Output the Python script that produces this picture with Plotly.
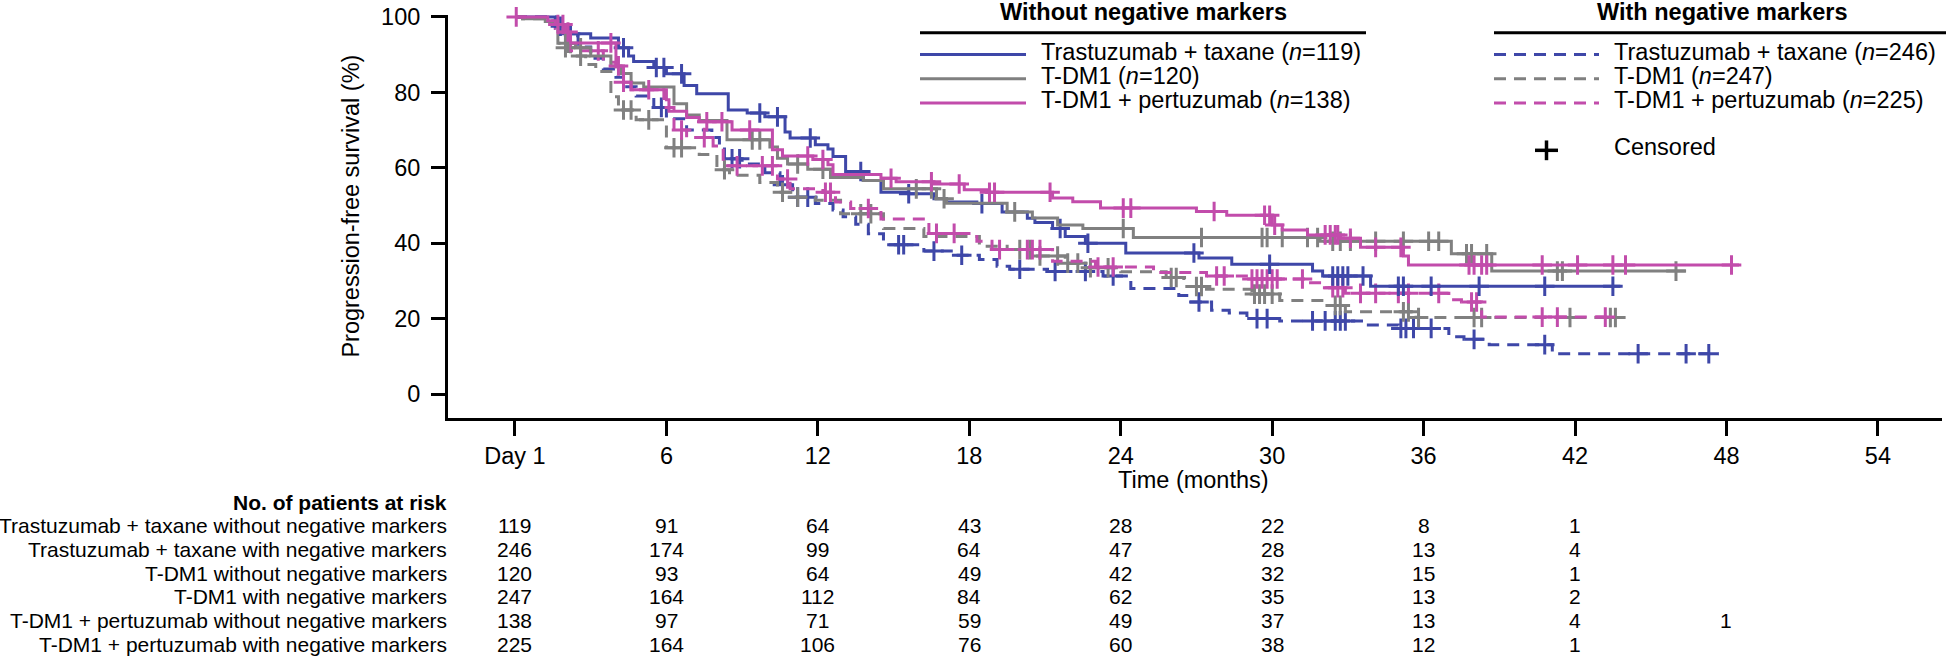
import numpy as np
import plotly.graph_objects as go

# ---------------- data ----------------
tick_vals = [0, 6, 12, 18, 24, 30, 36, 42, 48, 54]
tick_text = ["Day 1", "6", "12", "18", "24", "30", "36", "42", "48", "54"]
y_ticks = [0, 20, 40, 60, 80, 100]

# Trastuzumab + taxane, without negative markers (n=119)
tt_wo_t = [1.6, 2.0, 3.0, 4.1, 4.5, 4.7, 5.5, 6.0, 6.7, 7.2, 8.45, 9.2, 9.9, 10.7, 10.9, 11.9, 12.4, 12.6,
           13.1, 13.8, 14.5, 15.6, 16.6, 17.1, 18.3, 19.3, 20.3, 20.6, 21.3, 21.8, 22.6, 24.2, 27.1, 28.4,
           31.6, 32.0, 33.9]
tt_wo_s = [97.5, 95.5, 94.4, 91.8, 89.6, 88.2, 86.6, 84.9, 81.8, 79.6, 75.3, 74.5, 73.5, 69.5, 67.9, 66.1, 65.0, 63.0,
           59.0, 56.6, 53.5, 53.1, 51.8, 50.9, 50.5, 48.3, 46.6, 45.5, 43.9, 41.8, 40.0, 37.4, 36.1, 34.4,
           32.6, 31.3, 28.6]
tt_wo_end = 43.8
tt_wo_c = [1.8, 2.2, 4.3, 5.6, 5.9, 6.6, 9.7, 10.4, 11.7, 13.7, 15.6, 18.5, 21.6, 22.7, 26.9, 29.9, 32.4, 32.6,
           32.8, 33.0, 33.6, 35.0, 35.2, 36.3, 38.2, 40.8, 43.5]

# Trastuzumab + taxane, with negative markers (n=246)
tt_w_t = [1.6, 2.0, 2.5, 3.0, 3.5, 4.0, 4.3, 4.8, 5.5, 6.0, 6.8, 7.8, 8.1, 8.3, 9.0, 9.9, 10.5, 11.0, 11.9,
          12.6, 13.0, 13.5, 14.0, 14.6, 16.2, 17.4, 18.4, 19.1, 19.6, 21.1, 23.3, 24.4, 26.3, 26.7, 27.6,
          28.3, 29.0, 30.3, 33.7, 35.0, 37.0, 37.6, 38.6, 41.1]
tt_w_s = [97.0, 95.0, 92.0, 89.0, 86.2, 84.0, 81.5, 79.0, 76.0, 73.0, 70.0, 68.0, 66.0, 62.4, 61.0, 58.7, 55.5, 52.2, 50.5,
          48.8, 47.0, 45.0, 42.5, 39.6, 37.9, 36.8, 35.7, 33.9, 33.1, 32.5, 31.3, 28.0, 26.1, 24.4, 22.2,
          21.5, 20.0, 19.4, 18.3, 17.4, 15.2, 14.5, 13.1, 10.7]
tt_w_end = 47.7
tt_w_c = [5.8, 8.6, 8.9, 10.6, 11.2, 11.6, 15.2, 15.4, 16.6, 17.7, 20.0, 21.4, 22.6, 23.7, 27.1, 29.4, 29.8,
          31.6, 32.1, 32.5, 32.7, 32.9, 35.1, 35.3, 35.6, 36.3, 38.0, 40.8, 44.5, 46.4, 47.3]

# T-DM1, without negative markers (n=120)
t_wo_t = [0.3, 1.2, 1.7, 2.0, 2.4, 3.0, 3.8, 4.2, 4.6, 5.1, 6.3, 6.8, 7.3, 8.4, 10.1, 10.4, 10.8, 11.6, 12.5,
          13.8, 14.6, 16.7, 17.1, 19.5, 20.5, 21.5, 22.5, 24.5, 31.9, 37.1, 38.7]
t_wo_s = [99.5, 98.8, 96.0, 93.0, 91.8, 89.6, 87.0, 85.0, 82.5, 81.4, 77.0, 74.0, 72.5, 67.4, 65.5, 62.5, 61.0, 59.6, 57.4,
          56.6, 54.4, 51.8, 50.6, 48.3, 46.7, 44.8, 43.9, 41.5, 40.5, 37.2, 32.6]
t_wo_end = 46.4
t_wo_c = [2.1, 2.6, 9.4, 9.7, 11.2, 12.2, 15.9, 16.5, 17.0, 19.8, 24.1, 27.2, 29.6, 29.8, 30.4, 31.4, 31.8,
          32.4, 32.7, 33.1, 34.1, 35.2, 36.2, 36.6, 37.7, 37.9, 38.5, 41.3, 41.5, 46.0]

# T-DM1, with negative markers (n=247)
t_w_t = [0.3, 1.2, 1.7, 1.9, 2.2, 2.8, 3.2, 3.8, 4.1, 4.8, 6.0, 7.3, 8.0, 8.5, 9.7, 10.4, 11.0, 11.9, 12.9,
         14.6, 16.2, 18.4, 19.5, 20.7, 21.8, 22.6, 24.0, 25.8, 26.5, 27.4, 29.2, 30.3, 32.1, 32.9, 35.7]
t_w_s = [99.5, 98.5, 93.0, 91.8, 89.6, 87.4, 85.5, 78.8, 75.3, 72.7, 65.3, 63.5, 59.5, 58.0, 56.1, 53.5, 52.2, 51.4, 47.8,
         43.9, 41.8, 39.2, 38.3, 36.6, 34.7, 33.5, 32.4, 30.9, 28.5, 27.8, 26.5, 24.8, 23.5, 21.8, 20.3]
t_w_end = 44.0
t_w_c = [2.0, 2.6, 4.3, 4.6, 5.3, 6.3, 6.6, 8.3, 10.6, 11.2, 13.7, 14.1, 20.0, 20.4, 20.8, 21.5, 21.9, 22.3,
         22.8, 23.5, 26.0, 26.2, 27.0, 27.2, 29.3, 29.5, 29.7, 30.0, 32.5, 32.7, 35.2, 35.4, 35.8, 38.0, 38.3,
         41.8, 43.4, 43.6]

# T-DM1 + pertuzumab, without negative markers (n=138)
tp_wo_t = [1.3, 1.6, 2.0, 2.2, 4.0, 4.3, 4.6, 6.0, 6.1, 6.8, 7.3, 8.6, 10.2, 10.6, 11.8, 12.4, 12.6, 14.5,
           15.1, 16.6, 17.8, 18.7, 21.3, 22.1, 23.2, 27.0, 28.2, 30.0, 30.4, 31.4, 32.7, 33.5, 35.2, 35.4]
tp_wo_s = [99.0, 98.0, 96.0, 93.1, 87.0, 82.7, 80.7, 78.0, 75.0, 73.3, 72.2, 70.0, 64.8, 63.1, 62.2, 60.8, 58.2, 57.2,
           56.3, 55.7, 54.2, 53.5, 52.0, 51.0, 49.3, 48.4, 47.4, 44.8, 43.5, 42.2, 41.3, 38.9, 36.6, 34.2]
tp_wo_end = 48.5
tp_wo_c = [0.05, 1.7, 1.9, 2.1, 3.8, 4.1, 5.3, 7.6, 8.2, 9.3, 11.6, 12.2, 14.9, 16.5, 17.6, 18.8, 19.0, 21.2,
           24.1, 24.4, 27.7, 29.7, 29.9, 30.1, 32.1, 32.3, 32.5, 32.6, 33.1, 34.1, 35.1, 37.8, 38.0, 38.3,
           38.5, 40.7, 42.1, 43.5, 44.0, 48.2]

# T-DM1 + pertuzumab, with negative markers (n=225)
tp_w_t = [1.3, 1.6, 2.0, 2.2, 3.5, 4.0, 4.3, 4.6, 5.9, 6.3, 6.8, 7.85, 8.25, 10.4, 10.9, 12.2, 12.7, 13.3,
          14.5, 16.4, 18.3, 18.9, 21.3, 23.0, 25.3, 27.4, 29.1, 31.4, 32.1, 32.9, 37.0, 37.5, 38.3]
tp_w_s = [99.0, 97.0, 95.0, 91.0, 88.0, 86.7, 82.7, 80.7, 76.0, 70.0, 68.0, 65.8, 60.5, 57.0, 54.4, 53.5, 50.9, 49.2,
          46.4, 42.6, 40.5, 38.3, 35.2, 33.7, 32.2, 31.3, 30.5, 29.5, 28.2, 26.7, 25.0, 24.4, 20.4]
tp_w_end = 43.4
tp_w_c = [3.3, 4.3, 6.6, 7.5, 8.8, 9.8, 10.2, 10.8, 12.3, 12.5, 14.0, 16.7, 17.4, 19.2, 20.3, 20.5, 20.8,
          23.1, 23.7, 27.8, 28.1, 29.2, 29.4, 29.6, 29.8, 30.0, 30.2, 31.2, 32.4, 32.6, 32.8, 33.5, 34.1,
          35.0, 35.4, 36.6, 37.9, 38.1, 40.7, 41.3, 43.2]

# Number at risk
risk_times = [0, 6, 12, 18, 24, 30, 36, 42, 48]
risk_labels = ["Trastuzumab + taxane without negative markers",
               "Trastuzumab + taxane with negative markers",
               "T-DM1 without negative markers",
               "T-DM1 with negative markers",
               "T-DM1 + pertuzumab without negative markers",
               "T-DM1 + pertuzumab with negative markers"]
risk_tt_wo = [119, 91, 64, 43, 28, 22, 8, 1]
risk_tt_w = [246, 174, 99, 64, 47, 28, 13, 4]
risk_t_wo = [120, 93, 64, 49, 42, 32, 15, 1]
risk_t_w = [247, 164, 112, 84, 62, 35, 13, 2]
risk_tp_wo = [138, 97, 71, 59, 49, 37, 13, 4, 1]
risk_tp_w = [225, 164, 106, 76, 60, 38, 12, 1]

legend_wo = ["Trastuzumab + taxane (<i>n</i>=119)", "T-DM1 (<i>n</i>=120)", "T-DM1 + pertuzumab (<i>n</i>=138)"]
legend_w = ["Trastuzumab + taxane (<i>n</i>=246)", "T-DM1 (<i>n</i>=247)", "T-DM1 + pertuzumab (<i>n</i>=225)"]

# ---------------- styling / geometry ----------------
W, H = 1946, 660
L, R, T, B = 448, 4, 10, 242
PW, PH = W - L - R, H - T - B
BOT = H - B


def px(x):
    return (x - L) / PW


def py(y):
    return (BOT - y) / PH


BLUE = "#3E47A8"
GRAY = "#808080"
MAGENTA = "#C24CAB"
FONT = "Liberation Sans, Arial, Helvetica, sans-serif"
DASH = "12px,8px"
FS = 23.5
FS_TAB = 21
LAB_RIGHT = 449

X_RANGE = [-2.654, 56.54]
Y_RANGE = [-6.35, 100.5]

fig = go.Figure()


def add_curve(ts, ss, end, cens, color, dash):
    xs = [0.0] + list(ts) + [end]
    ys = [100.0] + list(ss) + [ss[-1]]
    fig.add_trace(go.Scatter(x=xs, y=ys, mode="lines", line=dict(color=color, width=3, dash=dash, shape="hv"),
                             cliponaxis=False, hoverinfo="skip"))
    tarr = np.array(xs[:-1])
    sarr = np.array(ys[:-1])
    idx = np.searchsorted(tarr, np.array(cens), side="right") - 1
    fig.add_trace(go.Scatter(x=cens, y=sarr[idx], mode="markers",
                             marker=dict(symbol="cross-thin", size=14, line=dict(color=color, width=3)),
                             cliponaxis=False, hoverinfo="skip"))


add_curve(tt_w_t, tt_w_s, tt_w_end, tt_w_c, BLUE, DASH)
add_curve(t_w_t, t_w_s, t_w_end, t_w_c, GRAY, DASH)
add_curve(tp_w_t, tp_w_s, tp_w_end, tp_w_c, MAGENTA, DASH)
add_curve(tt_wo_t, tt_wo_s, tt_wo_end, tt_wo_c, BLUE, "solid")
add_curve(t_wo_t, t_wo_s, t_wo_end, t_wo_c, GRAY, "solid")
add_curve(tp_wo_t, tp_wo_s, tp_wo_end, tp_wo_c, MAGENTA, "solid")

annotations = []
shapes = []

# axis titles
annotations.append(dict(text="Progression-free survival (%)", x=px(351), y=py(204), xref="paper", yref="paper",
                        textangle=-90, showarrow=False, font=dict(size=FS), xanchor="center", yanchor="middle"))
annotations.append(dict(text="Time (months)", x=px(1193), y=py(481), xref="paper", yref="paper",
                        showarrow=False, font=dict(size=FS), xanchor="center", yanchor="middle"))

# legend headers
annotations.append(dict(text="<b>Without negative markers</b>", x=px(1143), y=py(7), xref="paper", yref="paper",
                        showarrow=False, font=dict(size=FS), xanchor="center", yanchor="middle"))
annotations.append(dict(text="<b>With negative markers</b>", x=px(1722), y=py(7), xref="paper", yref="paper",
                        showarrow=False, font=dict(size=FS), xanchor="center", yanchor="middle"))
shapes.append(dict(type="line", xref="paper", yref="paper", x0=px(920), x1=px(1366), y0=py(28), y1=py(28),
                   line=dict(color="black", width=3)))
shapes.append(dict(type="line", xref="paper", yref="paper", x0=px(1494), x1=px(1946), y0=py(28), y1=py(28),
                   line=dict(color="black", width=3)))

colors = [BLUE, GRAY, MAGENTA]
rows_y = [50, 74.5, 99]
text_dy = -3
for i in range(3):
    shapes.append(dict(type="line", xref="paper", yref="paper", x0=px(920), x1=px(1026), y0=py(rows_y[i]),
                       y1=py(rows_y[i]), line=dict(color=colors[i], width=3)))
    annotations.append(dict(text=legend_wo[i], x=px(1039), y=py(rows_y[i] + text_dy), xref="paper", yref="paper",
                            showarrow=False, font=dict(size=FS), xanchor="left", yanchor="middle"))
    shapes.append(dict(type="line", xref="paper", yref="paper", x0=px(1494), x1=px(1599), y0=py(rows_y[i]),
                       y1=py(rows_y[i]), line=dict(color=colors[i], width=3, dash=DASH)))
    annotations.append(dict(text=legend_w[i], x=px(1612), y=py(rows_y[i] + text_dy), xref="paper", yref="paper",
                            showarrow=False, font=dict(size=FS), xanchor="left", yanchor="middle"))

# censored legend
shapes.append(dict(type="line", xref="paper", yref="paper", x0=px(1535), x1=px(1558), y0=py(147), y1=py(147),
                   line=dict(color="black", width=3.5)))
shapes.append(dict(type="line", xref="paper", yref="paper", x0=px(1546.5), x1=px(1546.5), y0=py(137), y1=py(157),
                   line=dict(color="black", width=3.5)))
annotations.append(dict(text="Censored", x=px(1612), y=py(147 + text_dy), xref="paper", yref="paper",
                        showarrow=False, font=dict(size=FS), xanchor="left", yanchor="middle"))

# number at risk table
annotations.append(dict(text="<b>No. of patients at risk</b>", x=px(LAB_RIGHT), y=py(504), xref="paper",
                        yref="paper", showarrow=False, font=dict(size=FS_TAB), xanchor="right", yanchor="middle"))
table_rows = [risk_tt_wo, risk_tt_w, risk_t_wo, risk_t_w, risk_tp_wo, risk_tp_w]
table_y = [527, 551, 575, 599, 623, 647]
for r, (lab, vals) in enumerate(zip(risk_labels, table_rows)):
    annotations.append(dict(text=lab, x=px(LAB_RIGHT), y=py(table_y[r]), xref="paper", yref="paper",
                            showarrow=False, font=dict(size=FS_TAB), xanchor="right", yanchor="middle"))
    for tm, v in zip(risk_times, vals):
        annotations.append(dict(text=str(v), x=tm, y=py(table_y[r]), xref="x", yref="paper",
                                showarrow=False, font=dict(size=FS_TAB), xanchor="center", yanchor="middle"))

fig.update_layout(
    width=W, height=H, autosize=False,
    margin=dict(l=L, r=R, t=T, b=B, pad=0),
    paper_bgcolor="white", plot_bgcolor="white",
    showlegend=False,
    font=dict(family=FONT, size=FS, color="black"),
    xaxis=dict(range=X_RANGE, tickvals=tick_vals, ticktext=tick_text, showline=True, linewidth=3,
               linecolor="black", ticks="outside", ticklen=15, tickwidth=3, tickcolor="black",
               showgrid=False, zeroline=False, tickfont=dict(size=FS), ticklabelstandoff=0,
               ticklabeloverflow="allow", fixedrange=True),
    yaxis=dict(range=Y_RANGE, tickvals=y_ticks, showline=True, linewidth=3, linecolor="black",
               ticks="outside", ticklen=14, tickwidth=3, tickcolor="black", showgrid=False, zeroline=False,
               tickfont=dict(size=FS), ticklabelstandoff=6, ticklabeloverflow="allow", fixedrange=True),
    annotations=annotations,
    shapes=shapes,
)

fig.write_html("out.html", config={"displayModeBar": False, "staticPlot": True},
               post_script="document.body.style.margin='0px';document.body.style.overflow='hidden';")
